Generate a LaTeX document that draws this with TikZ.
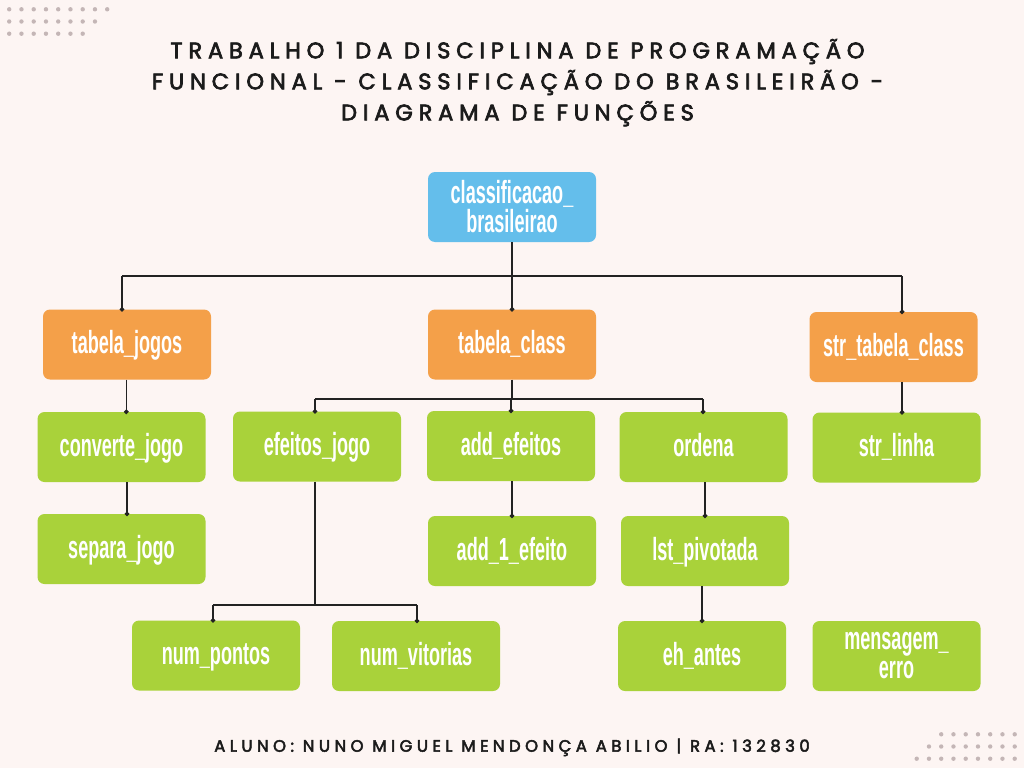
\documentclass[tikz,border=0pt]{standalone}
\usepackage{fontspec}
\usetikzlibrary{arrows.meta}
\newfontfamily\boxfont{Liberation Sans}[FakeStretch=0.565]
\newfontfamily\titlefont{Poppins}[LetterSpace=26, FakeBold=3]
\newfontfamily\footfont{Poppins}[LetterSpace=27, FakeBold=3]
\definecolor{bg}{HTML}{FDF5F3}
\definecolor{dotc}{HTML}{C4B6B6}
\definecolor{bluebox}{HTML}{64BEEB}
\definecolor{orangebox}{HTML}{F4A049}
\definecolor{greenbox}{HTML}{A9D23A}
\definecolor{linec}{HTML}{222222}
\definecolor{titlec}{HTML}{1B1B1B}
\begin{document}
\begin{tikzpicture}[x=1pt,y=-1pt,
  box/.style={rounded corners=7pt, minimum width=168pt, minimum height=70pt,
    inner sep=0pt, text=white, font=\boxfont\bfseries\fontsize{32}{29}\selectfont},
  one/.style={text height=23pt, text depth=5pt},
  two/.style={align=center},
  bluefill/.style={fill=bluebox},
  orangefill/.style={fill=orangebox},
  greenfill/.style={fill=greenbox},
  conn/.style={draw=linec, line width=1.2pt},
  dotend/.style={-{Circle[length=4.6pt,width=4.6pt]}, shorten >=-2.3pt},
  titletext/.style={anchor=base, text=titlec, inner sep=0pt,
    font=\titlefont\fontsize{22.5}{27}\selectfont},
  foottext/.style={anchor=base, text=titlec, inner sep=0pt,
    font=\footfont\fontsize{16.5}{20}\selectfont},
  bgdot/.style={fill=dotc}
]
\fill[bg] (0,0) rectangle (1024,768);
\useasboundingbox (0,0) rectangle (1024,768);

% decorative dots
\foreach \n [count=\r from 0] in {9,8,7}{
  \foreach \i in {1,...,\n}{
    \fill[bgdot] ({9.2+(\i-1)*12.25},{9.3+\r*12.2}) circle (2.2pt);
  }
}
\foreach \n [count=\r from 0] in {7,8,9}{
  \foreach \i in {1,...,\n}{
    \fill[bgdot] ({1014.7-(\i-1)*12.25},{734.3+\r*12.2}) circle (2.2pt);
  }
}

% title
\node[titletext] (t1) at (517.5,58.3) {TRABALHO 1 DA DISCIPLINA DE PROGRAMAÇÃO};
\node[titletext] (t2) at (517.5,89.3) {FUNCIONAL - CLASSIFICAÇÃO DO BRASILEIRÃO -};
\node[titletext] (t3) at (517.5,120.4) {DIAGRAMA DE FUNÇÕES};
\node[foottext] (ft) at (512,751.7) {ALUNO: NUNO MIGUEL MENDONÇA ABILIO | RA: 132830};

% boxes
\node[box,two,bluefill] (top) at (512,207) {classificacao\_\\brasileirao};
\node[box,one,orangefill] (tj) at (127,344.5) {tabela\_jogos};
\node[box,one,orangefill] (tc) at (512,344.5) {tabela\_class};
\node[box,one,orangefill] (stc) at (893.5,347) {str\_tabela\_class};
\node[box,one,greenfill] (cj) at (121.5,447) {converte\_jogo};
\node[box,one,greenfill] (ej) at (317,446.5) {efeitos\_jogo};
\node[box,one,greenfill] (ae) at (511,446) {add\_efeitos};
\node[box,one,greenfill] (ord) at (703.5,447) {ordena};
\node[box,one,greenfill] (sl) at (896.5,447.5) {str\_linha};
\node[box,one,greenfill] (sj) at (121.5,549) {separa\_jogo};
\node[box,one,greenfill] (a1) at (512,551) {add\_1\_efeito};
\node[box,one,greenfill] (lp) at (705,551) {lst\_pivotada};
\node[box,one,greenfill] (np) at (216,655.5) {num\_pontos};
\node[box,one,greenfill] (nv) at (416,656) {num\_vitorias};
\node[box,one,greenfill] (eh) at (702,656) {eh\_antes};
\node[box,two,greenfill] (me) at (896.5,656) {mensagem\_\\erro};

% connectors
\coordinate (hL) at (122,276);
\coordinate (hR) at (902,276);
\draw[conn,dotend] (top.south) -- (tc.north);
\draw[conn] (hL) -- (hR);
\draw[conn,dotend] (hL) -- (hL |- tj.north);
\draw[conn,dotend] (hR) -- (hR |- stc.north);
\draw[conn,dotend] ([xshift=-0.7pt]tj.south) -- ([xshift=-0.7pt]tj.south |- cj.north);
\draw[conn,dotend] ([xshift=5.5pt]cj.south) -- ([xshift=5.5pt]cj.south |- sj.north);

\coordinate (h2L) at (315,399);
\coordinate (h2R) at (703,399);
\draw[conn] (tc.south) -- (tc.south |- h2L);
\draw[conn] (h2L) -- (h2R);
\draw[conn,dotend] (h2L) -- (h2L |- ej.north);
\draw[conn,dotend] (ae.north |- h2L) -- (ae.north);
\draw[conn,dotend] (h2R) -- (h2R |- ord.north);
\draw[conn,dotend] (a1.north |- ae.south) -- (a1.north);

\coordinate (h3L) at (213,605);
\coordinate (h3R) at (417,605);
\draw[conn] (h2L |- ej.south) -- (h2L |- h3L);
\draw[conn] (h3L) -- (h3R);
\draw[conn,dotend] (h3L) -- (h3L |- np.north);
\draw[conn,dotend] (h3R) -- (h3R |- nv.north);

\draw[conn,dotend] (lp.north |- ord.south) -- (lp.north);
\draw[conn,dotend] (eh.north |- lp.south) -- (eh.north);
\draw[conn,dotend] (hR |- stc.south) -- (hR |- sl.north);
\end{tikzpicture}
\end{document}
